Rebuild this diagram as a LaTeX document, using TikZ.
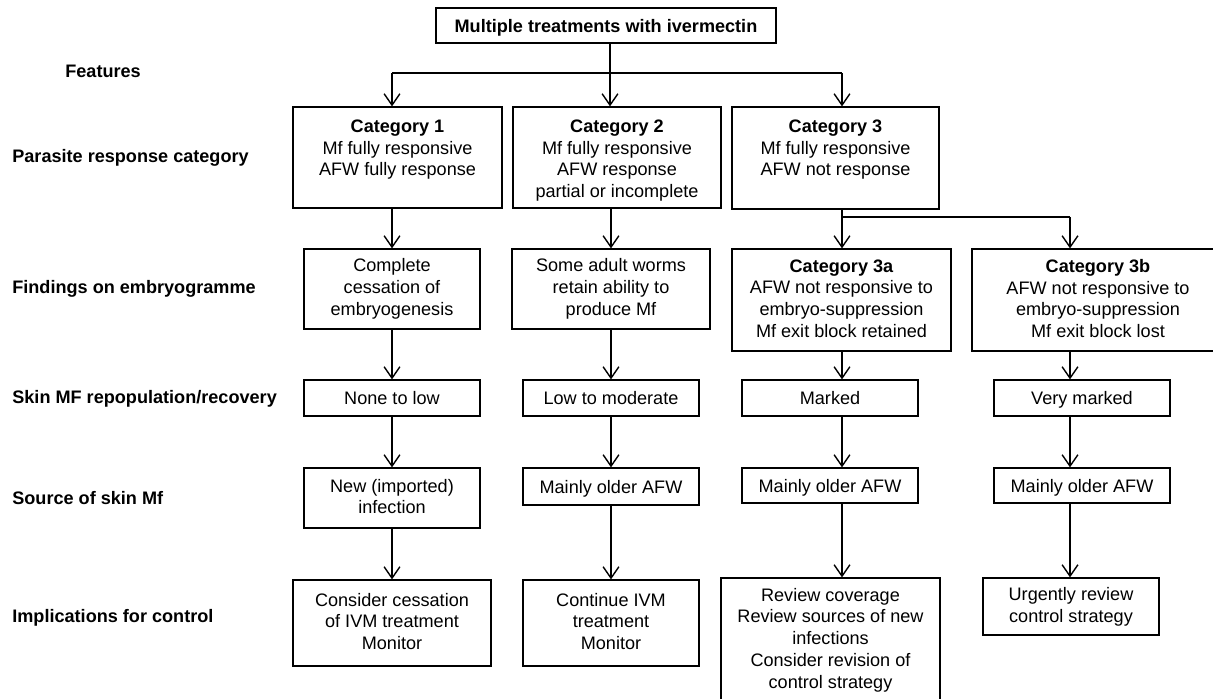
\documentclass[tikz,border=0pt]{standalone}
\usepackage{fontspec}
\setmainfont{Liberation Sans}
\usetikzlibrary{arrows.meta,positioning}
\newcommand{\boxstrut}{\rule[-1.8pt]{0pt}{11.4pt}}

\begin{document}
\begin{tikzpicture}[x=0.02cm,y=-0.02cm,
  font=\fontsize{10.3}{12.4}\selectfont,
  box/.style={draw,line width=0.7pt,align=center,inner sep=0pt,
    execute at begin node=\boxstrut,execute at end node=\boxstrut},
  catbox/.style={box,minimum width=4.16cm,minimum height=2.02cm},
  cattext/.style={align=center,inner sep=0pt,font=\fontsize{10.3}{12.2}\selectfont},
  rowbox/.style={box,minimum width=3.52cm,minimum height=0.72cm},
  rowlabel/.style={anchor=west,inner sep=0pt,font=\fontsize{10.3}{12.2}\selectfont\bfseries},
  link/.style={line width=0.8pt},
  arr/.style={link,-{Straight Barb[length=6.5pt,width=9pt]}}]
  \useasboundingbox (0,0) rectangle (1213,699);

  % row labels
  \node[rowlabel] (lfeat) at (65,71) {Features};
  \node[rowlabel] (lcat) at (12,158) {Parasite response category};
  \node[rowlabel] (lemb) at (12,289) {Findings on embryogramme};
  \node[rowlabel] (lrep) at (12,399) {Skin MF repopulation/recovery};
  \node[rowlabel] (lsrc) at (12,498) {Source of skin Mf};
  \node[rowlabel] (limp) at (12,618) {Implications for control};

  % top
  \node[box,minimum width=6.8cm,minimum height=0.7cm,font=\fontsize{10.3}{12.2}\selectfont\bfseries] (top) at (606,25.5) {Multiple treatments with ivermectin};

  % categories
  \node[catbox,minimum width=4.18cm] (c1) at (397.5,157.5) {};
  \node[cattext,below=0.27cm of c1.north] (c1t) {\textbf{Category 1}\\Mf fully responsive\\AFW fully response};
  \node[catbox] (c2) at (617,157.5) {};
  \node[cattext,below=0.27cm of c2.north] (c2t) {\textbf{Category 2}\\Mf fully responsive\\AFW response\\partial or incomplete};
  \node[catbox,minimum width=4.14cm,minimum height=2.04cm] (c3) at (835.5,158) {};
  \node[cattext,below=0.27cm of c3.north] (c3t) {\textbf{Category 3}\\Mf fully responsive\\AFW not response};

  % embryogramme
  \node[box,minimum width=3.52cm,minimum height=1.6cm] (f1) at (392,289) {Complete\\cessation of\\embryogenesis};
  \node[box,minimum width=3.96cm,minimum height=1.6cm] (f2) at (611,289) {Some adult worms\\retain ability to\\produce Mf};
  \node[box,minimum width=4.38cm,minimum height=2.04cm] (c3a) at (841.5,300) {\textbf{Category 3a}\\AFW not responsive to\\embryo-suppression\\Mf exit block retained};
  \node[box,minimum width=5.04cm,minimum height=2.04cm] (c3b) at (1098,300) {\textbf{Category 3b}\\AFW not responsive to\\embryo-suppression\\Mf exit block lost};

  % repopulation
  \node[rowbox] (r1) at (392,398) {None to low};
  \node[rowbox] (r2) at (611,398) {Low to moderate};
  \node[rowbox] (r3) at (830,398) {Marked};
  \node[rowbox] (r4) at (1082,398) {Very marked};

  % source
  \node[rowbox,minimum height=1.2cm] (s1) at (392,498) {New (imported)\\infection};
  \node[rowbox,minimum height=0.74cm] (s2) at (611,486.5) {Mainly older AFW};
  \node[rowbox,minimum height=0.7cm] (s3) at (830,485.5) {Mainly older AFW};
  \node[rowbox,minimum height=0.7cm] (s4) at (1082,485.5) {Mainly older AFW};

  % implications
  \node[box,minimum width=3.96cm,minimum height=1.72cm] (i1) at (392,623) {Consider cessation\\of IVM treatment\\Monitor};
  \node[box,minimum width=3.52cm,minimum height=1.72cm] (i2) at (611,623) {Continue IVM\\treatment\\Monitor};
  \node[box,minimum width=4.38cm,minimum height=2.48cm] (i3) at (830.5,640) {Review coverage\\Review sources of new\\infections\\Consider revision of\\control strategy};
  \node[box,minimum width=3.52cm,minimum height=1.14cm] (i4) at (1071,606.5) {Urgently review\\control strategy};

  % connectors
  \coordinate (j1) at (392,73);
  \coordinate (j2) at (610,73);
  \coordinate (j3) at (842,73);
  \coordinate (j4) at (842,217);
  \coordinate (j5) at (1070,217);
  \draw[link] (top.south -| j2) -- (j2);
  \draw[link] (j1) -- (j3);
  \foreach \j/\c in {j1/c1,j2/c2,j3/c3}{\draw[arr] (\j) -- (\j |- \c.north);}
  \draw[arr] (f1.north |- c1.south) -- (f1.north);
  \draw[arr] (f2.north |- c2.south) -- (f2.north);
  \foreach \a/\b in {f1/r1,r1/s1,s1/i1,f2/r2,r2/s2,s2/i2}{\draw[arr] (\a) -- (\b);}
  \draw[link] (j4 |- c3.south) -- (j4) -- (j5);
  \draw[arr] (j4) -- (j4 |- c3a.north);
  \draw[arr] (j5) -- (j5 |- c3b.north);
  \foreach \j/\a/\b in {j4/c3a/r3,j4/r3/s3,j4/s3/i3,j5/c3b/r4,j5/r4/s4,j5/s4/i4}{\draw[arr] (\j |- \a.south) -- (\j |- \b.north);}
\end{tikzpicture}
\end{document}
